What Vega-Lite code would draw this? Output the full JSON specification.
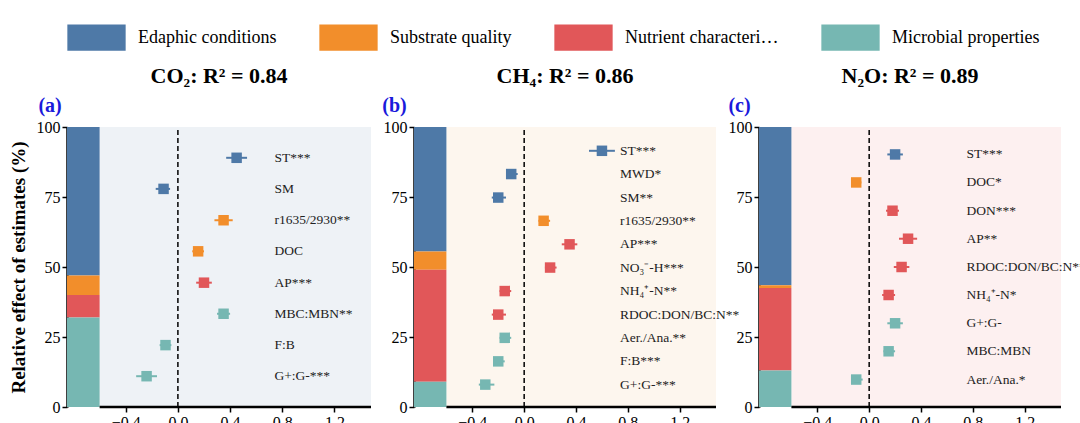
{
  "$schema": "https://vega.github.io/schema/vega-lite/v6.json",
  "background": "white",
  "padding": {"left": 8, "top": 8, "right": 5, "bottom": 5},
  "bounds": "flush",
  "datasets": {
    "bars": [
      {"panel": "a", "group": "Edaphic conditions", "lo": 47, "hi": 100},
      {"panel": "a", "group": "Substrate quality", "lo": 40, "hi": 47},
      {"panel": "a", "group": "Nutrient characteristics", "lo": 32, "hi": 40},
      {"panel": "a", "group": "Microbial properties", "lo": 0, "hi": 32},
      {"panel": "b", "group": "Edaphic conditions", "lo": 55.5, "hi": 100},
      {"panel": "b", "group": "Substrate quality", "lo": 49, "hi": 55.5},
      {"panel": "b", "group": "Nutrient characteristics", "lo": 9, "hi": 49},
      {"panel": "b", "group": "Microbial properties", "lo": 0, "hi": 9},
      {"panel": "c", "group": "Edaphic conditions", "lo": 43.5, "hi": 100},
      {"panel": "c", "group": "Substrate quality", "lo": 42.5, "hi": 43.5},
      {"panel": "c", "group": "Nutrient characteristics", "lo": 13, "hi": 42.5},
      {"panel": "c", "group": "Microbial properties", "lo": 0, "hi": 13}
    ],
    "pts": [
      {"panel": "a", "label": "ST***", "group": "Edaphic conditions", "pos": 89, "est": 0.45, "lo": 0.37, "hi": 0.53},
      {"panel": "a", "label": "SM", "group": "Edaphic conditions", "pos": 77.9, "est": -0.11, "lo": -0.17, "hi": -0.06},
      {"panel": "a", "label": "r1635/2930**", "group": "Substrate quality", "pos": 66.7, "est": 0.35, "lo": 0.28, "hi": 0.42},
      {"panel": "a", "label": "DOC", "group": "Substrate quality", "pos": 55.6, "est": 0.155, "lo": 0.11, "hi": 0.2},
      {"panel": "a", "label": "AP***", "group": "Nutrient characteristics", "pos": 44.4, "est": 0.2, "lo": 0.14, "hi": 0.26},
      {"panel": "a", "label": "MBC:MBN**", "group": "Microbial properties", "pos": 33.3, "est": 0.35, "lo": 0.3, "hi": 0.4},
      {"panel": "a", "label": "F:B", "group": "Microbial properties", "pos": 22.1, "est": -0.095, "lo": -0.14, "hi": -0.05},
      {"panel": "a", "label": "G+:G-***", "group": "Microbial properties", "pos": 11, "est": -0.24, "lo": -0.32, "hi": -0.16},
      {"panel": "b", "label": "ST***", "group": "Edaphic conditions", "pos": 91.5, "est": 0.6, "lo": 0.5, "hi": 0.7},
      {"panel": "b", "label": "MWD*", "group": "Edaphic conditions", "pos": 83.2, "est": -0.1, "lo": -0.14, "hi": -0.05},
      {"panel": "b", "label": "SM**", "group": "Edaphic conditions", "pos": 74.8, "est": -0.2, "lo": -0.25, "hi": -0.14},
      {"panel": "b", "label": "r1635/2930**", "group": "Substrate quality", "pos": 66.5, "est": 0.15, "lo": 0.11, "hi": 0.2},
      {"panel": "b", "label": "AP***", "group": "Nutrient characteristics", "pos": 58.1, "est": 0.35, "lo": 0.29, "hi": 0.41},
      {"panel": "b", "label": "NO₃⁻-H***", "group": "Nutrient characteristics", "pos": 49.8, "est": 0.2, "lo": 0.16, "hi": 0.25},
      {"panel": "b", "label": "NH₄⁺-N**", "group": "Nutrient characteristics", "pos": 41.4, "est": -0.15, "lo": -0.19, "hi": -0.1},
      {"panel": "b", "label": "RDOC:DON/BC:N**", "group": "Nutrient characteristics", "pos": 33, "est": -0.2, "lo": -0.25, "hi": -0.14},
      {"panel": "b", "label": "Aer./Ana.**", "group": "Microbial properties", "pos": 24.7, "est": -0.15, "lo": -0.19, "hi": -0.1},
      {"panel": "b", "label": "F:B***", "group": "Microbial properties", "pos": 16.3, "est": -0.2, "lo": -0.24, "hi": -0.15},
      {"panel": "b", "label": "G+:G-***", "group": "Microbial properties", "pos": 8, "est": -0.3, "lo": -0.35, "hi": -0.23},
      {"panel": "c", "label": "ST***", "group": "Edaphic conditions", "pos": 90.2, "est": 0.2, "lo": 0.14, "hi": 0.26},
      {"panel": "c", "label": "DOC*", "group": "Substrate quality", "pos": 80.2, "est": -0.1, "lo": -0.14, "hi": -0.06},
      {"panel": "c", "label": "DON***", "group": "Nutrient characteristics", "pos": 70.1, "est": 0.18, "lo": 0.13, "hi": 0.23},
      {"panel": "c", "label": "AP**", "group": "Nutrient characteristics", "pos": 60.1, "est": 0.3, "lo": 0.23, "hi": 0.37},
      {"panel": "c", "label": "RDOC:DON/BC:N**", "group": "Nutrient characteristics", "pos": 50, "est": 0.25, "lo": 0.19, "hi": 0.31},
      {"panel": "c", "label": "NH₄⁺-N*", "group": "Nutrient characteristics", "pos": 40, "est": 0.15, "lo": 0.1, "hi": 0.2},
      {"panel": "c", "label": "G+:G-", "group": "Microbial properties", "pos": 29.9, "est": 0.2, "lo": 0.14, "hi": 0.26},
      {"panel": "c", "label": "MBC:MBN", "group": "Microbial properties", "pos": 19.9, "est": 0.15, "lo": 0.11, "hi": 0.2},
      {"panel": "c", "label": "Aer./Ana.*", "group": "Microbial properties", "pos": 9.8, "est": -0.1, "lo": -0.14, "hi": -0.05}
    ]
  },
  "config": {
    "font": "Liberation Serif",
    "view": {"stroke": null},
    "axis": {"labelFont": "Liberation Serif", "titleFont": "Liberation Serif", "labelFontSize": 16, "titleFontSize": 19, "titleFontWeight": "bold", "labelColor": "black", "titleColor": "black", "grid": false, "tickColor": "black", "tickWidth": 1.5, "domainColor": "black", "domainWidth": 2.5},
    "legend": {"orient": "top", "direction": "horizontal", "labelFont": "Liberation Serif", "labelFontSize": 18, "labelColor": "black", "symbolType": "M-1,-0.45H1V0.45H-1Z", "symbolSize": 3400, "symbolStrokeWidth": 0, "symbolOpacity": 1, "columnPadding": 42, "labelOffset": 12, "title": null, "offset": 14},
    "title": {"font": "Liberation Serif", "fontSize": 22, "fontWeight": "bold", "color": "black", "offset": 8}
  },
  "resolve": {"scale": {"color": "shared"}, "legend": {"color": "shared"}},
  "spacing": 43,
  "hconcat": [
    {
      "width": 304, "height": 280,
      "title": "CO₂: R² = 0.84",
      "layer": [
        {"data": {"values": [{}]}, "mark": {"type": "rect", "color": "#eef2f6"}, "encoding": {"x": {"datum": -0.6, "type": "quantitative", "scale": {"domain": [-0.85, 1.48], "nice": false, "zero": false}, "axis": {"values": [-0.4, 0, 0.4, 0.8, 1.2], "format": ".1f", "title": "Parameter estimate", "domain": false, "titlePadding": 2}}, "x2": {"datum": 1.48}, "y": {"datum": 0, "type": "quantitative", "scale": {"domain": [0, 100], "nice": false}, "axis": {"values": [0, 25, 50, 75, 100], "title": "Relative effect of estimates (%)", "titlePadding": 8}}, "y2": {"datum": 100}}},
        {"data": {"name": "bars"}, "transform": [{"filter": "datum.panel == 'a'"}], "mark": {"type": "rect"}, "encoding": {"x": {"datum": -0.85, "type": "quantitative"}, "x2": {"datum": -0.6}, "y": {"field": "lo", "type": "quantitative"}, "y2": {"field": "hi"}, "color": {"field": "group", "type": "nominal", "scale": {"domain": ["Edaphic conditions", "Substrate quality", "Nutrient characteristics", "Microbial properties"], "range": ["#4e79a7", "#f28e2b", "#e15759", "#76b7b2"]}}}},
        {"data": {"values": [{}]}, "mark": {"type": "rule", "color": "black", "strokeWidth": 2.5}, "encoding": {"x": {"datum": -0.6, "type": "quantitative"}, "x2": {"datum": 1.48}, "y": {"datum": 0, "type": "quantitative"}}},
        {"data": {"values": [{}]}, "mark": {"type": "rule", "color": "black", "strokeWidth": 1.5, "strokeDash": [5, 3]}, "encoding": {"x": {"datum": 0, "type": "quantitative"}, "y": {"datum": 0, "type": "quantitative"}, "y2": {"datum": 100}}},
        {"data": {"name": "pts"}, "transform": [{"filter": "datum.panel == 'a'"}], "mark": {"type": "rule", "strokeWidth": 2}, "encoding": {"x": {"field": "lo", "type": "quantitative"}, "x2": {"field": "hi"}, "y": {"field": "pos", "type": "quantitative"}, "color": {"field": "group", "type": "nominal"}}},
        {"data": {"name": "pts"}, "transform": [{"filter": "datum.panel == 'a'"}], "mark": {"type": "square", "size": 110, "opacity": 1, "filled": true}, "encoding": {"x": {"field": "est", "type": "quantitative"}, "y": {"field": "pos", "type": "quantitative"}, "color": {"field": "group", "type": "nominal"}}},
        {"data": {"name": "pts"}, "transform": [{"filter": "datum.panel == 'a'"}], "mark": {"type": "text", "align": "left", "fontSize": 13.5, "font": "Liberation Serif", "color": "#222"}, "encoding": {"x": {"datum": 0.74, "type": "quantitative"}, "y": {"field": "pos", "type": "quantitative"}, "text": {"field": "label"}}},
        {"data": {"values": [{}]}, "mark": {"type": "text", "text": "(a)", "fontSize": 20, "fontWeight": "bold", "color": "#1a1adb", "font": "Liberation Serif"}, "encoding": {"x": {"datum": -0.98, "type": "quantitative"}, "y": {"datum": 107.5, "type": "quantitative"}}}
      ]
    },
    {
      "width": 302, "height": 280,
      "title": "CH₄: R² = 0.86",
      "layer": [
        {"data": {"values": [{}]}, "mark": {"type": "rect", "color": "#fdf6ee"}, "encoding": {"x": {"datum": -0.6, "type": "quantitative", "scale": {"domain": [-0.85, 1.48], "nice": false, "zero": false}, "axis": {"values": [-0.4, 0, 0.4, 0.8, 1.2], "format": ".1f", "title": "Parameter estimate", "domain": false, "titlePadding": 2}}, "x2": {"datum": 1.48}, "y": {"datum": 0, "type": "quantitative", "scale": {"domain": [0, 100], "nice": false}, "axis": {"values": [0, 25, 50, 75, 100], "title": null}}, "y2": {"datum": 100}}},
        {"data": {"name": "bars"}, "transform": [{"filter": "datum.panel == 'b'"}], "mark": {"type": "rect"}, "encoding": {"x": {"datum": -0.85, "type": "quantitative"}, "x2": {"datum": -0.6}, "y": {"field": "lo", "type": "quantitative"}, "y2": {"field": "hi"}, "color": {"field": "group", "type": "nominal"}}},
        {"data": {"values": [{}]}, "mark": {"type": "rule", "color": "black", "strokeWidth": 2.5}, "encoding": {"x": {"datum": -0.6, "type": "quantitative"}, "x2": {"datum": 1.48}, "y": {"datum": 0, "type": "quantitative"}}},
        {"data": {"values": [{}]}, "mark": {"type": "rule", "color": "black", "strokeWidth": 1.5, "strokeDash": [5, 3]}, "encoding": {"x": {"datum": 0, "type": "quantitative"}, "y": {"datum": 0, "type": "quantitative"}, "y2": {"datum": 100}}},
        {"data": {"name": "pts"}, "transform": [{"filter": "datum.panel == 'b'"}], "mark": {"type": "rule", "strokeWidth": 2}, "encoding": {"x": {"field": "lo", "type": "quantitative"}, "x2": {"field": "hi"}, "y": {"field": "pos", "type": "quantitative"}, "color": {"field": "group", "type": "nominal"}}},
        {"data": {"name": "pts"}, "transform": [{"filter": "datum.panel == 'b'"}], "mark": {"type": "square", "size": 110, "opacity": 1, "filled": true}, "encoding": {"x": {"field": "est", "type": "quantitative"}, "y": {"field": "pos", "type": "quantitative"}, "color": {"field": "group", "type": "nominal"}}},
        {"data": {"name": "pts"}, "transform": [{"filter": "datum.panel == 'b'"}], "mark": {"type": "text", "align": "left", "fontSize": 13.5, "font": "Liberation Serif", "color": "#222"}, "encoding": {"x": {"datum": 0.74, "type": "quantitative"}, "y": {"field": "pos", "type": "quantitative"}, "text": {"field": "label"}}},
        {"data": {"values": [{}]}, "mark": {"type": "text", "text": "(b)", "fontSize": 20, "fontWeight": "bold", "color": "#1a1adb", "font": "Liberation Serif"}, "encoding": {"x": {"datum": -1.0, "type": "quantitative"}, "y": {"datum": 107.5, "type": "quantitative"}}}
      ]
    },
    {
      "width": 302, "height": 280,
      "title": "N₂O: R² = 0.89",
      "layer": [
        {"data": {"values": [{}]}, "mark": {"type": "rect", "color": "#fdf0f0"}, "encoding": {"x": {"datum": -0.6, "type": "quantitative", "scale": {"domain": [-0.85, 1.48], "nice": false, "zero": false}, "axis": {"values": [-0.4, 0, 0.4, 0.8, 1.2], "format": ".1f", "title": "Parameter estimate", "domain": false, "titlePadding": 2}}, "x2": {"datum": 1.48}, "y": {"datum": 0, "type": "quantitative", "scale": {"domain": [0, 100], "nice": false}, "axis": {"values": [0, 25, 50, 75, 100], "title": null}}, "y2": {"datum": 100}}},
        {"data": {"name": "bars"}, "transform": [{"filter": "datum.panel == 'c'"}], "mark": {"type": "rect"}, "encoding": {"x": {"datum": -0.85, "type": "quantitative"}, "x2": {"datum": -0.6}, "y": {"field": "lo", "type": "quantitative"}, "y2": {"field": "hi"}, "color": {"field": "group", "type": "nominal"}}},
        {"data": {"values": [{}]}, "mark": {"type": "rule", "color": "black", "strokeWidth": 2.5}, "encoding": {"x": {"datum": -0.6, "type": "quantitative"}, "x2": {"datum": 1.48}, "y": {"datum": 0, "type": "quantitative"}}},
        {"data": {"values": [{}]}, "mark": {"type": "rule", "color": "black", "strokeWidth": 1.5, "strokeDash": [5, 3]}, "encoding": {"x": {"datum": 0, "type": "quantitative"}, "y": {"datum": 0, "type": "quantitative"}, "y2": {"datum": 100}}},
        {"data": {"name": "pts"}, "transform": [{"filter": "datum.panel == 'c'"}], "mark": {"type": "rule", "strokeWidth": 2}, "encoding": {"x": {"field": "lo", "type": "quantitative"}, "x2": {"field": "hi"}, "y": {"field": "pos", "type": "quantitative"}, "color": {"field": "group", "type": "nominal"}}},
        {"data": {"name": "pts"}, "transform": [{"filter": "datum.panel == 'c'"}], "mark": {"type": "square", "size": 110, "opacity": 1, "filled": true}, "encoding": {"x": {"field": "est", "type": "quantitative"}, "y": {"field": "pos", "type": "quantitative"}, "color": {"field": "group", "type": "nominal"}}},
        {"data": {"name": "pts"}, "transform": [{"filter": "datum.panel == 'c'"}], "mark": {"type": "text", "align": "left", "fontSize": 13.5, "font": "Liberation Serif", "color": "#222"}, "encoding": {"x": {"datum": 0.75, "type": "quantitative"}, "y": {"field": "pos", "type": "quantitative"}, "text": {"field": "label"}}},
        {"data": {"values": [{}]}, "mark": {"type": "text", "text": "(c)", "fontSize": 20, "fontWeight": "bold", "color": "#1a1adb", "font": "Liberation Serif"}, "encoding": {"x": {"datum": -1.0, "type": "quantitative"}, "y": {"datum": 107.5, "type": "quantitative"}}}
      ]
    }
  ]
}
